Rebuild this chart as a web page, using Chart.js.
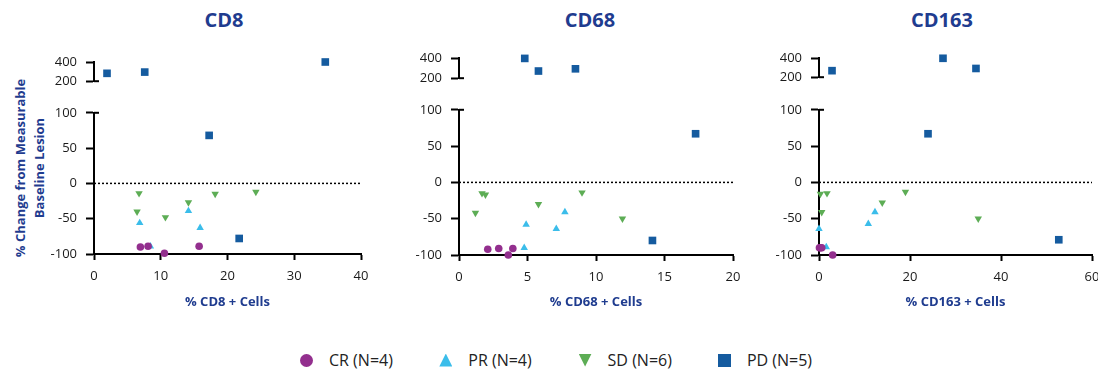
<!DOCTYPE html>
<html>
<head>
<meta charset="utf-8">
<script src="https://cdn.jsdelivr.net/npm/chart.js@4.4.1/dist/chart.umd.min.js"></script>
<style>
    html, body { margin: 0; padding: 0; overflow: hidden; background: #fff; }
    #page { position: relative; width: 1098px; height: 370px; overflow: hidden; font-family: 'Open Sans', sans-serif; }
    .holder { position: absolute; line-height: 0; }
    .ptitle {
        position: absolute; top: 8px; width: 200px; height: 24px; line-height: 24px;
        text-align: center; font-weight: bold; font-size: 20px; color: #1F3C8F;
    }
    #ytitle {
        position: absolute; width: 240px; height: 38px; left: -90px; top: 149px;
        transform: rotate(-90deg); text-align: center;
        font-weight: bold; font-size: 13px; line-height: 19px; color: #1F3C8F;
    }
    #legend { position: absolute; left: 0; top: 350px; width: 1098px; height: 20px; }
    .item { position: absolute; top: 0; height: 20px; display: flex; align-items: center; font-size: 16px; color: #222; }
    .mark { width: 13px; height: 13px; margin-right: 16px; }
</style>
</head>
<body>
<div id="page">
    <div id="ytitle">% Change from Measurable<br>Baseline Lesion</div>
    <div id="legend"></div>
</div>
<script>
// Grupos de respuesta
const groupNames = ['CR (N=4)', 'PR (N=4)', 'SD (N=6)', 'PD (N=5)'];

// Paneles
const panelTitles = ['CD8', 'CD68', 'CD163'];
const xAxisTitles = ['% CD8 + Cells', '% CD68 + Cells', '% CD163 + Cells'];
const xMax = [40, 20, 60];
const xStep = [10, 5, 20];
const lowerTicks = [-100, -50, 0, 50, 100];
const upperTicks = [200, 400];

// CD8
const cd8CR = [{x: 6.95, y: -90}, {x: 8.1, y: -89}, {x: 10.55, y: -99}, {x: 15.75, y: -89}];
const cd8PR = [{x: 6.85, y: -56}, {x: 8.45, y: -89}, {x: 14.15, y: -39}, {x: 15.9, y: -63}];
const cd8SD = [{x: 6.75, y: -14}, {x: 6.45, y: -40}, {x: 10.7, y: -48}, {x: 14.15, y: -27}, {x: 18.15, y: -15}, {x: 24.25, y: -12}];
const cd8PD = [{x: 1.95, y: 282}, {x: 7.6, y: 295}, {x: 34.65, y: 400}, {x: 17.25, y: 68}, {x: 21.75, y: -78}];

// CD68
const cd68CR = [{x: 2.1, y: -92}, {x: 2.9, y: -91}, {x: 3.93, y: -91}, {x: 3.6, y: -100}];
const cd68PR = [{x: 4.76, y: -90}, {x: 4.9, y: -58}, {x: 7.1, y: -64}, {x: 7.73, y: -41}];
const cd68SD = [{x: 1.68, y: -15}, {x: 1.93, y: -17}, {x: 1.2, y: -42}, {x: 5.8, y: -30}, {x: 8.98, y: -14}, {x: 11.93, y: -50}];
const cd68PD = [{x: 4.8, y: 396}, {x: 5.8, y: 271}, {x: 8.5, y: 293}, {x: 17.27, y: 67}, {x: 14.12, y: -80}];

// CD163
const cd163CR = [{x: 0.1, y: -90}, {x: 0.35, y: -90}, {x: 0.6, y: -90}, {x: 3.0, y: -100}];
const cd163PR = [{x: 0, y: -64}, {x: 1.6, y: -89}, {x: 10.84, y: -57}, {x: 12.3, y: -41}];
const cd163SD = [{x: 0.3, y: -16}, {x: 1.76, y: -15}, {x: 0.6, y: -41}, {x: 13.9, y: -28}, {x: 19, y: -13}, {x: 35, y: -50}];
const cd163PD = [{x: 2.86, y: 268}, {x: 27.25, y: 397}, {x: 34.5, y: 291}, {x: 23.96, y: 67}, {x: 52.7, y: -79}];

const panelData = [
    [cd8CR, cd8PR, cd8SD, cd8PD],
    [cd68CR, cd68PR, cd68SD, cd68PD],
    [cd163CR, cd163PR, cd163SD, cd163PD]
];

// Estilos
const navy = '#1F3C8F';
const groupColors = ['#932F8E', '#3BBDEA', '#5DAD55', '#155B9F'];
const groupShapes = ['circle', 'triangle', 'triangle', 'rect'];
const groupRotation = [0, 0, 180, 0];
const groupRadius = [3.8, 4.3, 4.3, 5.4];
const tickFont = {family: 'Open Sans', size: 13};

// Posicion de cada panel (px)
const panelBoxes = [
    {areaL: 94, areaR: 361, upTop: 62, upBot: 88, loTop: 106, loBot: 254, titleX: 224},
    {areaL: 459, areaR: 733, upTop: 58, upBot: 85, loTop: 103, loBot: 255, titleX: 590},
    {areaL: 819, areaR: 1092, upTop: 58, upBot: 84, loTop: 103, loBot: 255, titleX: 942}
];

const page = document.getElementById('page');

// Marca de corte del eje (remate hacia la derecha en la marca del corte)
const breakCaps = {
    id: 'breakCaps',
    afterDraw(chart, args, opts) {
        const px = chart.scales.y.getPixelForValue(opts.value);
        const left = chart.chartArea.left;
        const ctx = chart.ctx;
        ctx.save();
        ctx.strokeStyle = '#000';
        ctx.lineWidth = 2;
        ctx.beginPath();
        ctx.moveTo(left, px);
        ctx.lineTo(left + 5, px);
        ctx.stroke();
        ctx.restore();
    }
};

function makeCanvas(left, top, w, h) {
    const div = document.createElement('div');
    div.className = 'holder';
    div.style.left = left + 'px';
    div.style.top = top + 'px';
    const c = document.createElement('canvas');
    c.width = w;
    c.height = h;
    c.style.width = w + 'px';
    c.style.height = h + 'px';
    div.appendChild(c);
    page.appendChild(div);
    return c.getContext('2d');
}

function pointSets(series, upper) {
    return series.map((pts, g) => ({
        label: groupNames[g],
        data: pts.filter(p => upper ? p.y >= 200 : p.y < 200),
        pointStyle: groupShapes[g],
        pointRotation: groupRotation[g],
        pointRadius: groupRadius[g],
        pointHoverRadius: groupRadius[g],
        backgroundColor: groupColors[g],
        borderWidth: 0,
        clip: false,
        order: g + 1
    }));
}

function yAxis(min, max, step) {
    return {
        min: min,
        max: max,
        ticks: {stepSize: step, padding: 9, font: tickFont, color: '#1a1a1a'},
        grid: {drawOnChartArea: false, tickLength: 8, tickWidth: 2, tickColor: '#000'},
        border: {color: '#000', width: 2},
        afterFit: s => { s.width = 60; }
    };
}

panelBoxes.forEach((b, i) => {
    // Titulo del panel
    const t = document.createElement('div');
    t.className = 'ptitle';
    t.style.left = (b.titleX - 100) + 'px';
    t.textContent = panelTitles[i];
    page.appendChild(t);

    const cL = b.areaL - 90;
    const cW = b.areaR + 20 - cL;

    // Segmento superior (200 - 400)
    new Chart(makeCanvas(cL, 0, cW, b.upBot + 10), {
        type: 'scatter',
        data: {datasets: pointSets(panelData[i], true)},
        plugins: [breakCaps],
        options: {
            responsive: false,
            animation: false,
            events: [],
            layout: {padding: {left: 30, right: 20, top: b.upTop, bottom: 10}},
            plugins: {
                legend: {display: false},
                tooltip: {enabled: false},
                breakCaps: {value: upperTicks[0]}
            },
            scales: {
                x: {type: 'linear', display: false, min: 0, max: xMax[i]},
                y: yAxis(upperTicks[0], upperTicks[1], 200)
            }
        }
    });

    // Segmento inferior (-100 - 100)
    const cT = b.loTop - 10;
    const zeroLine = {
        data: [{x: 0, y: 0}, {x: xMax[i], y: 0}],
        showLine: true,
        borderColor: '#000',
        borderWidth: 1.5,
        borderDash: [2, 2],
        pointRadius: 0,
        order: 10
    };
    new Chart(makeCanvas(cL, cT, cW, 326 - cT), {
        type: 'scatter',
        data: {datasets: pointSets(panelData[i], false).concat([zeroLine])},
        plugins: [breakCaps],
        options: {
            responsive: false,
            animation: false,
            events: [],
            layout: {padding: {left: 30, right: 20, top: 10, bottom: 0}},
            plugins: {
                legend: {display: false},
                tooltip: {enabled: false},
                breakCaps: {value: lowerTicks[lowerTicks.length - 1]}
            },
            scales: {
                x: {
                    type: 'linear',
                    min: 0,
                    max: xMax[i],
                    ticks: {stepSize: xStep[i], padding: 8, font: tickFont, color: '#1a1a1a', maxRotation: 0},
                    grid: {drawOnChartArea: false, tickLength: 6, tickWidth: 2, tickColor: '#000'},
                    border: {color: '#000', width: 2},
                    title: {
                        display: true,
                        text: xAxisTitles[i],
                        color: navy,
                        font: {family: 'Open Sans', size: 13, weight: 'bold'},
                        padding: {top: 0, bottom: 16}
                    },
                    afterFit: s => { s.height = 326 - b.loBot; }
                },
                y: yAxis(lowerTicks[0], lowerTicks[lowerTicks.length - 1], 50)
            }
        }
    });
});

// Leyenda
const legend = document.getElementById('legend');
groupNames.forEach((name, g) => {
    const item = document.createElement('div');
    item.className = 'item';
    item.style.left = (300 + g * 139.3) + 'px';
    const mark = document.createElement('span');
    mark.className = 'mark';
    mark.style.background = groupColors[g];
    if (groupShapes[g] === 'circle') mark.style.borderRadius = '50%';
    if (groupShapes[g] === 'triangle') {
        mark.style.clipPath = groupRotation[g] ? 'polygon(0 0, 100% 0, 50% 100%)' : 'polygon(50% 0, 100% 100%, 0 100%)';
    }
    const txt = document.createElement('span');
    txt.textContent = name;
    item.appendChild(mark);
    item.appendChild(txt);
    legend.appendChild(item);
});
</script>
</body>
</html>
